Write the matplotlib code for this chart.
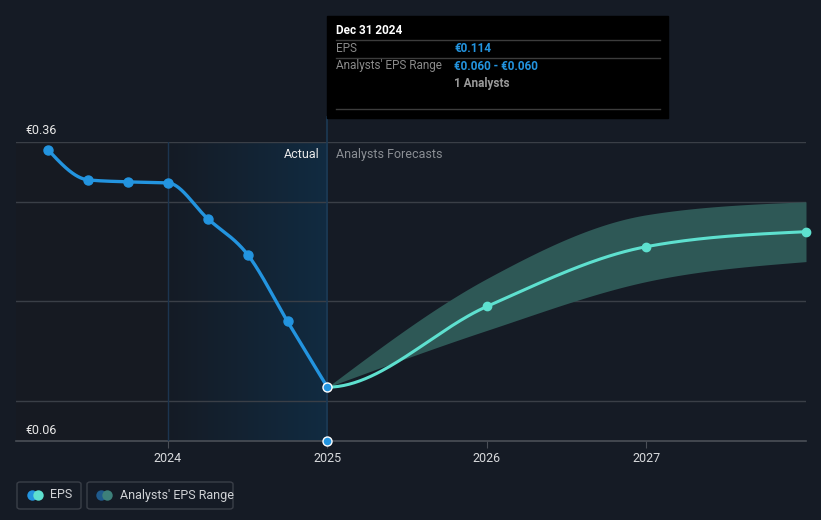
import numpy as np
import matplotlib
matplotlib.use("Agg")
import matplotlib.pyplot as plt
from matplotlib.patches import FancyBboxPatch, Rectangle
from matplotlib.colors import to_rgb

plt.rcParams['font.family'] = ['Roboto', 'DejaVu Sans']

# ---- data ----
actual_x = [2023.25, 2023.5, 2023.75, 2024.0, 2024.25, 2024.5, 2024.75, 2025.0]
actual_eps = [0.352, 0.322, 0.320, 0.319, 0.283, 0.247, 0.180, 0.114]
fc_x = [2025.0, 2026.0, 2027.0, 2028.0]
fc_eps = [0.114, 0.195, 0.255, 0.270]
fc_high = [0.114, 0.223, 0.287, 0.300]
fc_low = [0.114, 0.171, 0.220, 0.240]
range_point_x = [2025.0]
range_point_y = [0.060]
year_ticks = [2024, 2025, 2026, 2027]
y_labels = ["€0.36", "€0.06"]

BG = '#151b25'
BLUE = '#2394df'
TEAL = '#5ee0cf'


def monotone(x, y, n=60, first_slope=None):
    """d3 curveMonotoneX style interpolation."""
    x = np.asarray(x, float); y = np.asarray(y, float)
    h = np.diff(x); s = np.diff(y) / h
    m = np.zeros_like(y)
    for k in range(1, len(x) - 1):
        h0, h1, s0, s1 = h[k - 1], h[k], s[k - 1], s[k]
        p = (s0 * h1 + s1 * h0) / (h0 + h1)
        m[k] = (np.sign(s0) + np.sign(s1)) * min(abs(s0), abs(s1), 0.5 * abs(p))
    if len(x) > 2:
        m[0] = (3 * s[0] - m[1]) / 2
        m[-1] = (3 * s[-1] - m[-2]) / 2
    else:
        m[0] = m[-1] = s[0]
    if first_slope is not None:
        m[0] = first_slope
    xs_all, ys_all = [], []
    for k in range(len(x) - 1):
        t = np.linspace(0, 1, n)
        hk = h[k]
        h00 = 2 * t**3 - 3 * t**2 + 1; h10 = t**3 - 2 * t**2 + t
        h01 = -2 * t**3 + 3 * t**2; h11 = t**3 - t**2
        xs_all.append(x[k] + t * hk)
        ys_all.append(h00 * y[k] + h10 * hk * m[k] + h01 * y[k + 1] + h11 * hk * m[k + 1])
    return np.concatenate(xs_all), np.concatenate(ys_all)


W, H = 821, 520
fig = plt.figure(figsize=(W / 100, H / 100), dpi=100, facecolor=BG)
ax = fig.add_axes([16 / W, (H - 441) / H, (806 - 16) / W, (441 - 142) / H])
ax.set_facecolor(BG)
x0, x1 = 2023.048, 2028.0
ax.set_xlim(x0, x1)
ax.set_ylim(0.06, 0.36)
for s in ax.spines.values():
    s.set_visible(False)

# actual-region gradient
c0 = np.array(to_rgb(BG)); c1 = np.array(to_rgb('#112b41'))
grad = np.linspace(0, 1, 256)[None, :, None]
img = c0 + (c1 - c0) * grad
ax.imshow(img, extent=[2024.0, 2025.0, 0.06, 0.36], aspect='auto', zorder=0, interpolation='bilinear')
ax.add_patch(Rectangle((x0, 0.06), 2024.0 - x0, 0.30, color='#161a22', zorder=0, lw=0))

# gridlines
for gy in [0.1, 0.2, 0.3, 0.36]:
    ax.axhline(gy, color='#3a3f47', lw=1, zorder=1)
ax.axhline(0.06, color='#4a4f57', lw=1.2, zorder=1, clip_on=False)
ax.axvline(2024.0, color='#1c3550', lw=1, zorder=1)
ax.plot([2025.0, 2025.0], [0.06, 0.36 + (142 - 117) / 299 * 0.30], color='#1c3a55', lw=1.2,
        zorder=1, clip_on=False)

# band
bx, bh = monotone(fc_x, fc_high)
_, bl = monotone(fc_x, fc_low)
ax.fill_between(bx, bl, bh, color='#2e5856', lw=0, zorder=2)

# forecast line (tangent at the junction is flat: local minimum of the joined series)
fx, fy = monotone(fc_x, fc_eps, first_slope=0.0)
ax.plot(fx, fy, color=TEAL, lw=2.2, zorder=3, solid_capstyle='round')
ax.plot(fc_x[1:], fc_eps[1:], 'o', color=TEAL, ms=6, zorder=4, clip_on=False)

# actual line
axx, ayy = monotone(actual_x, actual_eps)
ax.plot(axx, ayy, color=BLUE, lw=2.4, zorder=5, solid_capstyle='round')
ax.plot(actual_x[:-1], actual_eps[:-1], 'o', color=BLUE, ms=6.5, zorder=6)
ax.plot(actual_x[-1:], actual_eps[-1:], 'o', color=BLUE, ms=6.5, mec='white', mew=1, zorder=6)
ax.plot(range_point_x, range_point_y, 'o', color=BLUE, ms=6.5, mec='white', mew=1, zorder=6, clip_on=False)

# ticks
ax.set_yticks([])
ax.set_xticks(year_ticks)
ax.set_xticklabels([str(y) for y in year_ticks], color='#d8dadd', fontsize=9)
ax.tick_params(axis='x', length=5, color='#4a4f57', pad=3)

# y labels
fig.text(25 / W, 1 - 130 / H, y_labels[0], color='#e8e8e8', fontsize=9, va='center', ha='left')
fig.text(25 / W, 1 - 430 / H, y_labels[1], color='#e8e8e8', fontsize=9, va='center', ha='left')

fig.text(320 / W, 1 - 154 / H, "Actual", color='#e8e8e8', fontsize=9, va='center', ha='right')
fig.text(336 / W, 1 - 154 / H, "Analysts Forecasts", color='#8a8e94', fontsize=9, va='center', ha='left')

# tooltip
fig.patches.append(Rectangle((327 / W, 1 - 118 / H), (668 - 327) / W, (118 - 16) / H,
                             transform=fig.transFigure, color='black', zorder=10))
def hline(y):
    fig.add_artist(plt.Line2D([336 / W, 660 / W], [1 - y / H, 1 - y / H], color='#3c3c3c', lw=1,
                              transform=fig.transFigure, zorder=11))
hline(40); hline(58); hline(109)
fig.text(336 / W, 1 - 31 / H, "Dec 31 2024", color='white', fontsize=8.5, fontweight='bold', va='center', zorder=12)
fig.text(336 / W, 1 - 49 / H, "EPS", color='#8a8a8a', fontsize=8.5, va='center', zorder=12)
fig.text(454 / W, 1 - 49 / H, "€0.114", color=BLUE, fontsize=8.5, fontweight='bold', va='center', zorder=12)
fig.text(336 / W, 1 - 66 / H, "Analysts' EPS Range", color='#8a8a8a', fontsize=8.5, va='center', zorder=12)
fig.text(454 / W, 1 - 66 / H, "€0.060 - €0.060", color=BLUE, fontsize=8.5, fontweight='bold', va='center', zorder=12)
fig.text(454 / W, 1 - 83 / H, "1 Analysts", color='#9a9a9a', fontsize=8.5, fontweight='bold', va='center', zorder=12)

# legend
def legbox(xa, xb):
    fig.patches.append(FancyBboxPatch((xa / W, 1 - 509 / H), (xb - xa) / W, 27 / H,
                                      boxstyle="round,pad=0,rounding_size=0.004",
                                      transform=fig.transFigure, fc=BG, ec='#3a3f48', lw=1))
legbox(17, 81)
legbox(87, 233)
def dot(x, c):
    fig.add_artist(plt.Line2D([x / W], [1 - 495 / H], marker='o', ms=7.5, color=c, mew=0,
                              transform=fig.transFigure))
dot(32, BLUE); dot(38, TEAL)
dot(101, '#1f5a8c'); dot(107, '#3d807a')
fig.text(50 / W, 1 - 495 / H, "EPS", color='#d0d2d5', fontsize=9, va='center')
fig.text(120 / W, 1 - 495 / H, "Analysts' EPS Range", color='#d0d2d5', fontsize=9, va='center')

fig.savefig("out.png", dpi=100, facecolor=BG)
